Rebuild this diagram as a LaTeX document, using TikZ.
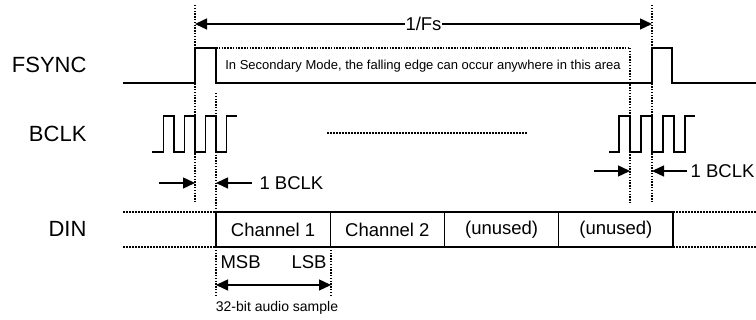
\documentclass[tikz,border=0pt]{standalone}
\usepackage{fontspec}
\setmainfont{Liberation Sans}
\usetikzlibrary{arrows.meta,positioning}

\tikzset{
  sig/.style={line width=1.4pt},
  marker/.style={line width=1.8pt, dash pattern=on 1.5pt off 1.3pt},
  dotline/.style={line width=1.4pt, dash pattern=on 2pt off 1pt},
  tip/.style={-{Triangle[length=12pt,width=11pt]}, line width=1.4pt},
  dtip/.style={{Triangle[length=12pt,width=11pt]}-{Triangle[length=12pt,width=11pt]},
    line width=1.4pt},
  chan/.style={draw, line width=1.4pt, minimum width=114.25pt, minimum height=35pt,
    inner sep=0pt, outer sep=0pt, font=\fontsize{18.5}{22}\selectfont},
  signame/.style={anchor=east, font=\fontsize{22}{26}\selectfont},
  small/.style={font=\fontsize{18.5}{22}\selectfont}
}

\begin{document}
\begin{tikzpicture}[x=1pt, y=-1pt]
  \useasboundingbox (0,0) rectangle (756,320);
  % time markers
  \coordinate (a) at (195,24);
  \coordinate (b) at (216,183);
  \coordinate (c) at (630,171);
  \coordinate (d) at (652,24);
  \draw[marker] (195,5) -- (195,203);
  \draw[marker] (216,93) -- (216,297);
  \draw[marker] (630,48) -- (630,203);
  \draw[marker] (652,5) -- (652,203);
  \draw[marker] (331,247) -- (331,297);

  % 1/Fs
  \draw[dtip] (a) -- (d)
    node[midway, fill=white, inner sep=1pt, small] (fs) {1/Fs};

  % FSYNC
  \node[signame] (fsync) at (90,65) {FSYNC};
  \draw[sig] (123,83) -- (195,83) -- (195,48) -- (216,48) -- (216,83)
    -- (652,83) -- (652,48) -- (672,48) -- (672,83) -- (756,83);
  \draw[marker] (216,48) -- (630,48);
  \node[font=\fontsize{13}{15}\selectfont] (area) at (423,66)
    {In Secondary Mode, the falling edge can occur anywhere in this area};

  % BCLK
  \node[signame] (bclk) at (90,134) {BCLK};
  \draw[sig] (152,152) foreach \x in {163.5,184.5,205.5}
    {-- (\x,152) -- (\x,116) -- (\x+10.5,116) -- (\x+10.5,152)}
    -- (226.5,152) -- (226.5,116) -- (237,116);
  \draw[sig] (609,152) foreach \x in {619,641,663}
    {-- (\x,152) -- (\x,116) -- (\x+11,116) -- (\x+11,152)}
    -- (685,152) -- (685,116) -- (695,116);
  \draw[dotline] (327,133) -- (527,133);

  % 1 BCLK
  \coordinate (al) at (159,183);
  \coordinate (bl) at (252,183);
  \draw[tip] (al) -- (b -| a);
  \draw[tip] (bl) -- (b);
  \node[small, anchor=west] (bclk1) at (256,183) {1 BCLK};
  \coordinate (cl) at (594,171);
  \coordinate (dl) at (687,171);
  \draw[tip] (cl) -- (c);
  \draw[tip] (dl) -- (c -| d);
  \node[small, anchor=west, inner sep=0pt] (bclk2) at (690.5,171) {1 BCLK};

  % DIN
  \node[signame] (din) at (90,229) {DIN};
  \node[chan] (ch1) at (273.125,229.5) {Channel 1};
  \node[chan, right=0pt of ch1] (ch2) {Channel 2};
  \node[chan, right=0pt of ch2] (un1) {(unused)};
  \node[chan, right=0pt of un1] (un2) {(unused)};
  \draw[dotline] (123,212) -- (ch1.north west);
  \draw[dotline] (123,247) -- (ch1.south west);
  \draw[dotline] (un2.north east) -- (756,212);
  \draw[dotline] (un2.south east) -- (756,247);

  % sample
  \node[small, anchor=west] (msb) at (217,262) {MSB};
  \node[small, anchor=east] (lsb) at (330,262) {LSB};
  \coordinate (s1) at (216,285);
  \coordinate (s2) at (331,285);
  \draw[dtip] (s1) -- (s2);
  \node[font=\fontsize{14}{16}\selectfont] (bits) at (277,308) {32-bit audio sample};
\end{tikzpicture}
\end{document}
